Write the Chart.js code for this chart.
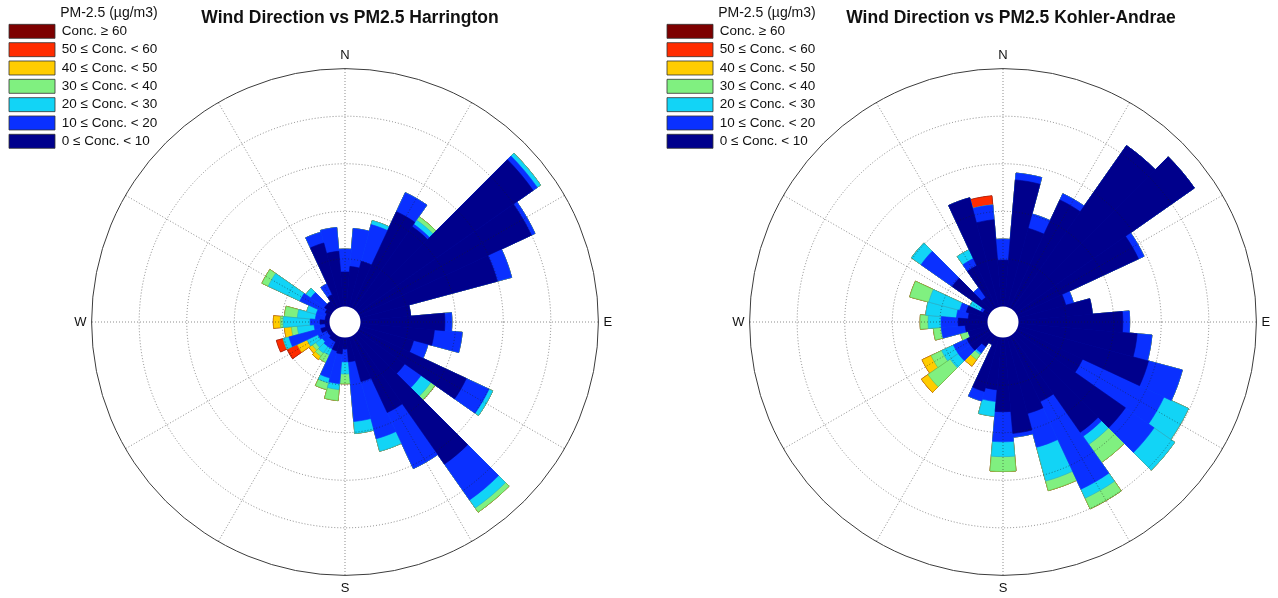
<!DOCTYPE html>
<html>
<head>
<meta charset="utf-8">
<title>Wind Direction vs PM2.5</title>
<script src="https://cdn.jsdelivr.net/npm/chart.js@4.4.1/dist/chart.umd.min.js"></script>
<style>
  html, body { margin: 0; padding: 0; background: #ffffff; }
  #page { position: relative; width: 1278px; height: 598px; overflow: hidden; background: #ffffff; }
  #page canvas { position: absolute; top: 0; }
  #roseHarrington { left: 0; }
  #roseKohler { left: 658px; }
</style>
</head>
<body>
<div id="page">
  <canvas id="roseHarrington" width="645" height="598"></canvas>
  <canvas id="roseKohler" width="645" height="598"></canvas>
</div>
<script>
// Wind direction sectors (degrees clockwise from north), 10-degree bins
const directions = [0, 10, 20, 30, 40, 50, 60, 70, 80, 90, 100, 110, 120, 130, 140, 150, 160, 170,
                    180, 190, 200, 210, 220, 230, 240, 250, 260, 270, 280, 290, 300, 310, 320, 330, 340, 350];
const compassLabels = { 0: 'N', 90: 'E', 180: 'S', 270: 'W' };

// PM-2.5 concentration classes (µg/m3)
const concLabels = ['0 \u2264 Conc. < 10', '10 \u2264 Conc. < 20', '20 \u2264 Conc. < 30', '30 \u2264 Conc. < 40',
                    '40 \u2264 Conc. < 50', '50 \u2264 Conc. < 60', 'Conc. \u2265 60'];
const legendTitle = 'PM-2.5 (\u00b5g/m3)';

// Harrington: frequency (%) of each direction, one array per concentration class
const harr00to10 = [1.09, 1.27, 1.49, 3.35, 3.19, 6.75, 5.99, 4.48, 1.59, 2.66, 2.34, 1.75, 3.73, 1.81, 4.98, 2.66, 1.46, 0.77,
                    0.36, 0.52, 0.46, 0.20, 0.20, 0.14, 0.14, 0.30, 0.14, 0.30, 0.14, 0.14, 0.20, 0.30, 0.30, 0.46, 2.09, 1.75];
const harr10to20 = [0.72, 1.20, 1.20, 0.66, 0.09, 0.16, 0.13, 0.47, 0.00, 0.22, 0.88, 0.47, 0.79, 0.63, 1.38, 1.95, 1.86, 1.89,
                    0.41, 0.94, 0.88, 0.25, 0.25, 0.25, 0.31, 1.04, 0.35, 0.31, 0.31, 0.31, 0.88, 0.53, 0.00, 0.38, 0.35, 0.75];
const harr20to30 = [0.00, 0.00, 0.13, 0.00, 0.16, 0.13, 0.00, 0.00, 0.00, 0.00, 0.00, 0.00, 0.13, 0.38, 0.31, 0.00, 0.41, 0.38,
                    0.38, 0.19, 0.16, 0.22, 0.25, 0.25, 0.38, 0.19, 0.53, 0.85, 0.57, 0.31, 1.10, 0.19, 0.00, 0.00, 0.00, 0.00];
const harr30to40 = [0.00, 0.00, 0.00, 0.00, 0.13, 0.00, 0.00, 0.00, 0.00, 0.00, 0.00, 0.00, 0.00, 0.16, 0.16, 0.00, 0.00, 0.00,
                    0.31, 0.35, 0.22, 0.25, 0.13, 0.13, 0.00, 0.00, 0.19, 0.09, 0.41, 0.00, 0.22, 0.00, 0.00, 0.00, 0.00, 0.00];
const harr40to50 = [0.00, 0.00, 0.00, 0.00, 0.00, 0.00, 0.00, 0.00, 0.00, 0.00, 0.00, 0.00, 0.00, 0.00, 0.00, 0.00, 0.00, 0.00,
                    0.00, 0.00, 0.00, 0.00, 0.13, 0.13, 0.35, 0.00, 0.22, 0.22, 0.00, 0.00, 0.00, 0.00, 0.00, 0.00, 0.00, 0.00];
const harr50to60 = [0.00, 0.00, 0.00, 0.00, 0.00, 0.00, 0.00, 0.00, 0.00, 0.00, 0.00, 0.00, 0.00, 0.00, 0.00, 0.00, 0.00, 0.00,
                    0.00, 0.00, 0.00, 0.00, 0.00, 0.00, 0.35, 0.22, 0.00, 0.00, 0.00, 0.00, 0.00, 0.00, 0.00, 0.00, 0.00, 0.00];
const harr60up   = [0.00, 0.00, 0.00, 0.00, 0.00, 0.00, 0.00, 0.00, 0.00, 0.00, 0.00, 0.00, 0.00, 0.00, 0.00, 0.00, 0.00, 0.00,
                    0.00, 0.00, 0.00, 0.00, 0.00, 0.00, 0.00, 0.00, 0.00, 0.00, 0.00, 0.00, 0.00, 0.00, 0.00, 0.00, 0.00, 0.00];

// Kohler-Andrae: frequency (%) of each direction, one array per concentration class
const kohl00to10 = [1.22, 3.34, 2.14, 3.13, 5.25, 5.73, 3.52, 1.30, 1.95, 2.74, 3.13, 3.55, 1.90, 3.52, 3.13, 1.90, 2.08, 2.53,
                    1.95, 1.38, 1.48, 0.25, 0.38, 0.64, 0.64, 0.54, 0.59, 0.77, 0.51, 0.59, 0.17, 1.22, 0.38, 1.22, 2.97, 2.29];
const kohl10to20 = [0.55, 0.18, 0.39, 0.18, 0.00, 0.00, 0.16, 0.21, 0.00, 0.18, 0.39, 0.92, 2.36, 0.92, 0.13, 2.54, 0.92, 0.10,
                    0.79, 0.31, 0.26, 0.00, 0.21, 0.39, 0.39, 0.00, 0.63, 0.45, 0.31, 0.18, 0.08, 1.00, 0.31, 0.21, 0.00, 0.39];
const kohl20to30 = [0.00, 0.00, 0.00, 0.00, 0.00, 0.00, 0.00, 0.00, 0.00, 0.00, 0.00, 0.00, 0.71, 0.66, 0.26, 0.26, 0.92, 0.00,
                    0.39, 0.39, 0.00, 0.00, 0.05, 0.26, 0.34, 0.00, 0.00, 0.34, 0.81, 0.84, 0.31, 0.31, 0.00, 0.26, 0.00, 0.00];
const kohl30to40 = [0.00, 0.00, 0.00, 0.00, 0.00, 0.00, 0.00, 0.00, 0.00, 0.00, 0.00, 0.00, 0.00, 0.00, 0.58, 0.31, 0.26, 0.00,
                    0.39, 0.00, 0.00, 0.00, 0.16, 0.71, 0.31, 0.21, 0.21, 0.21, 0.00, 0.52, 0.00, 0.00, 0.00, 0.00, 0.00, 0.00];
const kohl40to50 = [0.00, 0.00, 0.00, 0.00, 0.00, 0.00, 0.00, 0.00, 0.00, 0.00, 0.00, 0.00, 0.00, 0.00, 0.00, 0.00, 0.00, 0.00,
                    0.00, 0.00, 0.00, 0.00, 0.21, 0.21, 0.26, 0.00, 0.00, 0.00, 0.00, 0.00, 0.00, 0.00, 0.00, 0.00, 0.00, 0.00];
const kohl50to60 = [0.00, 0.00, 0.00, 0.00, 0.00, 0.00, 0.00, 0.00, 0.00, 0.00, 0.00, 0.00, 0.00, 0.00, 0.00, 0.00, 0.00, 0.00,
                    0.00, 0.00, 0.00, 0.00, 0.00, 0.00, 0.00, 0.00, 0.00, 0.00, 0.00, 0.00, 0.00, 0.00, 0.00, 0.00, 0.00, 0.24];
const kohl60up   = [0.00, 0.00, 0.00, 0.00, 0.00, 0.00, 0.00, 0.00, 0.00, 0.00, 0.00, 0.00, 0.00, 0.00, 0.00, 0.00, 0.00, 0.00,
                    0.00, 0.00, 0.00, 0.00, 0.00, 0.00, 0.00, 0.00, 0.00, 0.00, 0.00, 0.00, 0.00, 0.00, 0.00, 0.00, 0.00, 0.00];

// Frequency rings (%) drawn on each rose
const harrRingStep = 1.5;
const kohlRingStep = 1.25;
const ringCount = 5;

// ---- styling ----
const FONT = "'Liberation Sans', Arial, Helvetica, sans-serif";
const classColors = ['#00008c', '#0a30ff', '#12d4f6', '#80f080', '#ffcc00', '#ff2c00', '#7d0000'];
const classEdges  = ['#00008c', '#0a30ff', '#2aa9c8', '#5cbf5c', '#c9a000', '#c02000', '#500000'];
const DOT_COLOR = 'rgba(30,30,30,0.5)';
const HOLE = 0.326;   // radius of the empty centre, in ring widths

Chart.defaults.font.family = FONT;
Chart.defaults.color = '#111';

const roseDecor = {
  id: 'roseDecor',
  afterLayout(chart, args, opts) {
    // legend sits in the top-left corner, clear of the polar area
    const lg = chart.legend;
    if (lg) {
      lg.left = 4.67; lg.top = 0;
      lg.width = 153; lg.right = lg.left + lg.width;
      lg.height = 300; lg.bottom = 300;
    }
    // title is centred over the axes box, a little right of the rose centre
    const tb = chart.titleBlock;
    if (tb && opts.titleShift) { tb.left += 2 * opts.titleShift; }
  },
  afterDatasetsDraw(chart) {
    // dotted spokes every 30 degrees
    const s = chart.scales.r, ctx = chart.ctx;
    const R = s.getDistanceFromCenterForValue(s.max);
    ctx.save();
    ctx.strokeStyle = DOT_COLOR;
    ctx.lineWidth = 1;
    ctx.setLineDash([1, 2]);
    for (let a = 0; a < 360; a += 30) {
      const t = a * Math.PI / 180;
      ctx.beginPath();
      ctx.moveTo(s.xCenter, s.yCenter);
      ctx.lineTo(s.xCenter + R * Math.sin(t), s.yCenter - R * Math.cos(t));
      ctx.stroke();
    }
    ctx.restore();
  },
  afterDraw(chart) {
    // empty centre of the rose
    const s = chart.scales.r, ctx = chart.ctx;
    ctx.save();
    ctx.fillStyle = '#ffffff';
    ctx.beginPath();
    ctx.arc(s.xCenter, s.yCenter, s.getDistanceFromCenterForValue(0), 0, Math.PI * 2);
    ctx.fill();
    ctx.restore();
  }
};

function buildRose(canvasId, titleText, classes, ringStep, titleShift) {
  // stack the classes: each dataset holds the running total up to its class
  const totals = [];
  let running = directions.map(() => 0);
  classes.forEach(cls => {
    running = running.map((v, i) => Math.round((v + cls[i]) * 1000) / 1000);
    totals.push(running);
  });
  const ringValues = [];
  for (let k = 0; k <= ringCount; k++) ringValues.push(k * ringStep);
  const rMax = ringCount * ringStep;

  return new Chart(document.getElementById(canvasId), {
    type: 'polarArea',
    data: {
      labels: directions.map(d => d + '\u00b0'),
      datasets: totals.map((vals, k) => ({
        label: concLabels[k],
        data: vals,
        backgroundColor: classColors[k],
        borderColor: classEdges[k],
        borderWidth: 0.6
      }))
    },
    plugins: [roseDecor],
    options: {
      responsive: false,
      animation: false,
      devicePixelRatio: 1,
      layout: { padding: { left: 45, right: 0, top: 0, bottom: 1 } },
      scales: {
        r: {
          min: -HOLE * ringStep,
          max: rMax,
          startAngle: -5,
          ticks: { display: false, stepSize: ringStep },
          afterBuildTicks: sc => { sc.ticks = ringValues.map(v => ({ value: v })); },
          grid: {
            circular: true,
            z: 1,
            color: c => (c.tick && c.tick.value <= 0) ? 'rgba(0,0,0,0)'
                      : (c.tick && c.tick.value >= rMax ? '#3c3c3c' : DOT_COLOR),
            lineWidth: 1
          },
          border: { dash: c => (c.tick && c.tick.value >= rMax) ? [] : [1, 2] },
          angleLines: { display: false },
          pointLabels: {
            display: true,
            centerPointLabels: true,
            padding: 5,
            color: '#111',
            font: { size: 13, family: FONT },
            callback: (lbl, i) => compassLabels[directions[i]] || ''
          }
        }
      },
      plugins: {
        roseDecor: { titleShift: titleShift },
        tooltip: { enabled: false },
        title: {
          display: true,
          text: titleText,
          color: '#111',
          font: { size: 17.5, weight: 'bold', family: FONT, lineHeight: 1.2 },
          padding: { top: 7.5, bottom: 20.5 }
        },
        legend: {
          display: true,
          position: 'chartArea',
          align: 'start',
          onClick: null,
          title: {
            display: true,
            text: legendTitle,
            position: 'end',
            color: '#111',
            font: { size: 14, family: FONT, lineHeight: 1 },
            padding: { top: 6, bottom: 0 }
          },
          labels: {
            boxWidth: 46,
            boxHeight: 14,
            padding: 4.33,
            color: '#111',
            font: { size: 13.5, family: FONT },
            generateLabels: ch => ch.data.datasets.map((ds, i) => ({
              text: ds.label,
              fillStyle: ds.backgroundColor,
              strokeStyle: '#333333',
              lineWidth: 0.8,
              fontColor: '#111',
              hidden: false,
              datasetIndex: i
            })).reverse()
          }
        }
      }
    }
  });
}

buildRose('roseHarrington', 'Wind Direction vs PM2.5 Harrington',
  [harr00to10, harr10to20, harr20to30, harr30to40, harr40to50, harr50to60, harr60up], harrRingStep, 5);
buildRose('roseKohler', 'Wind Direction vs PM2.5 Kohler-Andrae',
  [kohl00to10, kohl10to20, kohl20to30, kohl30to40, kohl40to50, kohl50to60, kohl60up], kohlRingStep, 8);
</script>
</body>
</html>
